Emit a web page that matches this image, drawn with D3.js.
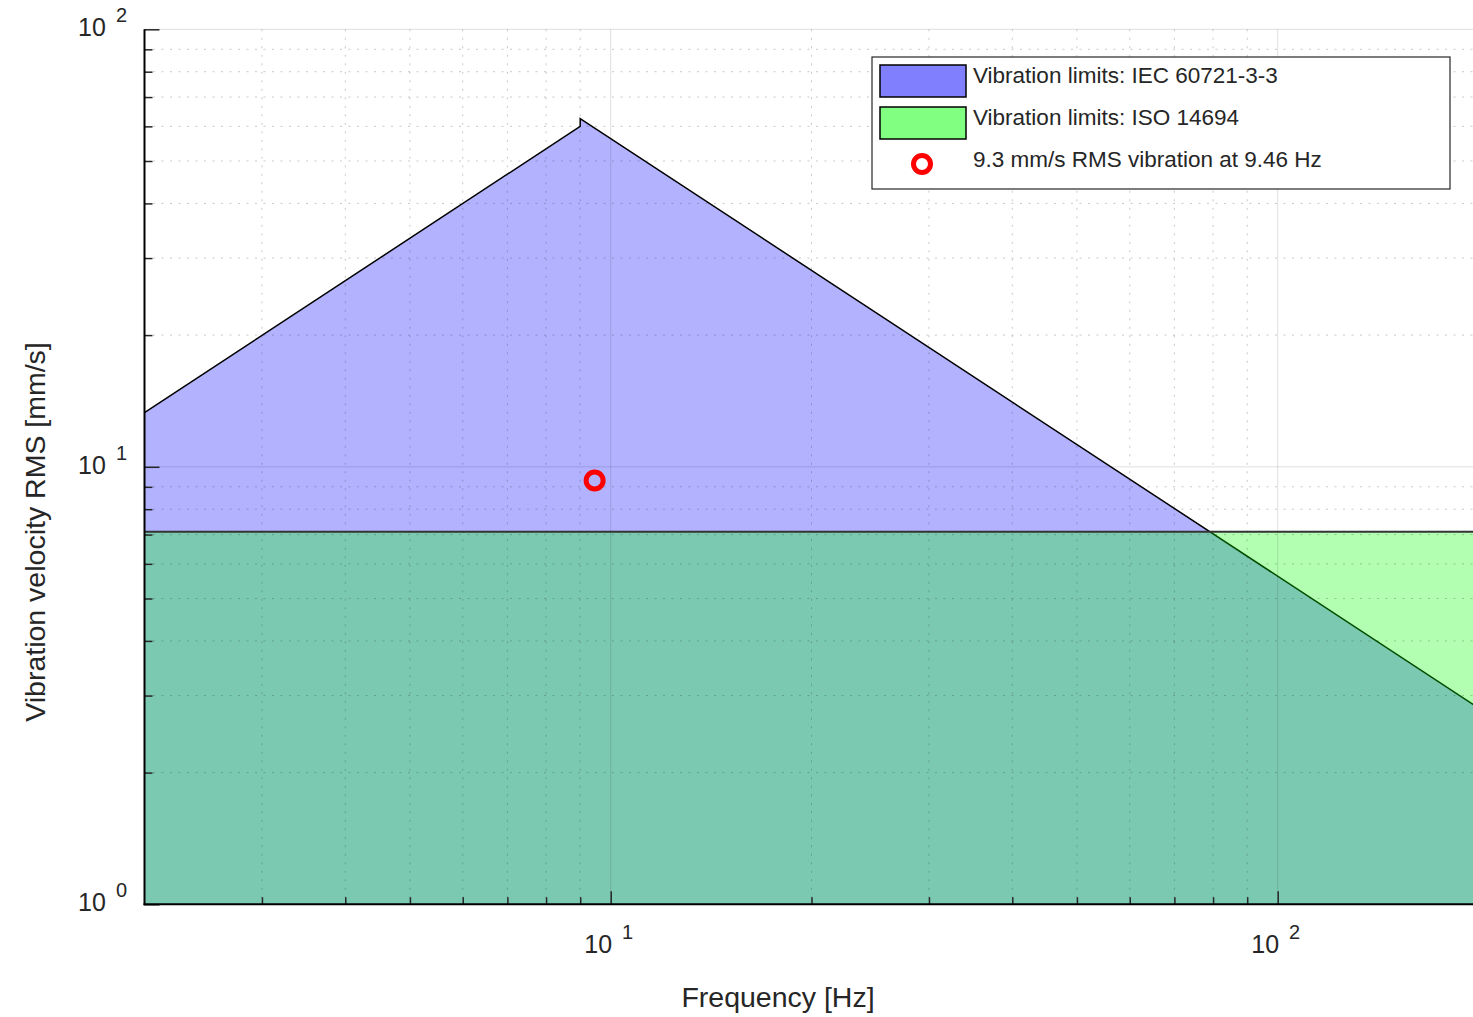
<!DOCTYPE html>
<html>
<head>
<meta charset="utf-8">
<script src="https://cdn.jsdelivr.net/npm/d3@7/dist/d3.min.js"></script>
<style>
	body { margin: 0; background: #fff; }
	text { font-family: "Liberation Sans", Arial, Helvetica, sans-serif; fill: #262626; }
</style>
</head>
<body>
<div id="chart"></div>
<script>
// limit curves (frequency in Hz, velocity in mm/s RMS)
var iecFreq  = [2, 9, 9, 200];
var iecVel   = [13.3, 60.0, 62.5, 2.81];
var isoFreq  = [2, 200];
var isoVel   = [7.1, 7.1];
var measFreq = [9.46];
var measVel  = [9.3];

var xMajorTicks = [10, 100];
var xMinorTicks = [3, 4, 5, 6, 7, 8, 9, 20, 30, 40, 50, 60, 70, 80, 90, 200];
var yMajorTicks = [1, 10, 100];
var yMinorTicks = [2, 3, 4, 5, 6, 7, 8, 9, 20, 30, 40, 50, 60, 70, 80, 90];

var legendLabels = [
	"Vibration limits: IEC 60721-3-3",
	"Vibration limits: ISO 14694",
	"9.3 mm/s RMS vibration at 9.46 Hz"
];

var W = 1473, H = 1017;
var plot = { left: 144.5, right: 1478.5, top: 29.3, bottom: 904.3 };

var svg = d3.select("#chart").append("svg")
	.attr("width", W)
	.attr("height", H);

var x = d3.scaleLog().domain([2, 200]).range([plot.left, plot.right]);
var y = d3.scaleLog().domain([1, 100]).range([plot.bottom, plot.top]);

svg.append("clipPath").attr("id", "clip")
	.append("rect")
	.attr("x", plot.left).attr("y", plot.top)
	.attr("width", plot.right - plot.left).attr("height", plot.bottom - plot.top);

var layer = svg.append("g").attr("clip-path", "url(#clip)");

var area = d3.area()
	.x(function(d){ return x(d[0]); })
	.y0(y(1))
	.y1(function(d){ return y(d[1]); });
var line = d3.line()
	.x(function(d){ return x(d[0]); })
	.y(function(d){ return y(d[1]); });

var iecPts = d3.zip(iecFreq, iecVel);
var isoPts = d3.zip(isoFreq, isoVel);

// IEC polygon
layer.append("path").attr("d", area(iecPts))
	.attr("fill", "#0000ff").attr("fill-opacity", 0.3);
layer.append("path").attr("d", line(iecPts))
	.attr("fill", "none").attr("stroke", "#000").attr("stroke-width", 1.5);

// ISO polygon on top
layer.append("path").attr("d", area(isoPts))
	.attr("fill", "#00ff00").attr("fill-opacity", 0.3);
layer.append("path").attr("d", line(isoPts))
	.attr("fill", "none").attr("stroke", "#333").attr("stroke-width", 2);

// grid (drawn over the fills)
var grid = svg.append("g");
grid.selectAll(".xminor").data(xMinorTicks).enter().append("line")
	.attr("x1", function(d){ return x(d); }).attr("x2", function(d){ return x(d); })
	.attr("y1", plot.top).attr("y2", plot.bottom)
	.attr("stroke", "#262626").attr("stroke-opacity", 0.25)
	.attr("stroke-dasharray", "2,6.5");
grid.selectAll(".yminor").data(yMinorTicks).enter().append("line")
	.attr("y1", function(d){ return y(d); }).attr("y2", function(d){ return y(d); })
	.attr("x1", plot.left).attr("x2", plot.right)
	.attr("stroke", "#262626").attr("stroke-opacity", 0.25)
	.attr("stroke-dasharray", "2,6.5");
grid.selectAll(".xmajor").data(xMajorTicks).enter().append("line")
	.attr("x1", function(d){ return x(d); }).attr("x2", function(d){ return x(d); })
	.attr("y1", plot.top).attr("y2", plot.bottom)
	.attr("stroke", "#262626").attr("stroke-opacity", 0.15);
grid.selectAll(".ymajor").data(yMajorTicks.slice(1)).enter().append("line")
	.attr("y1", function(d){ return y(d); }).attr("y2", function(d){ return y(d); })
	.attr("x1", plot.left).attr("x2", plot.right)
	.attr("stroke", "#262626").attr("stroke-opacity", 0.15);

// axes: inward ticks, major and minor
var xAxisMinor = d3.axisBottom(x).tickValues(xMinorTicks).tickSize(-7).tickSizeOuter(0).tickFormat("");
var xAxisMajor = d3.axisBottom(x).tickValues(xMajorTicks).tickSize(-13).tickSizeOuter(0).tickFormat("");
var yAxisMinor = d3.axisLeft(y).tickValues(yMinorTicks).tickSize(-8).tickSizeOuter(0).tickFormat("");
var yAxisMajor = d3.axisLeft(y).tickValues(yMajorTicks).tickSize(-15).tickSizeOuter(0).tickFormat("");

function styleAxis(g){
	g.selectAll(".domain").remove();
	g.selectAll(".tick line").attr("stroke", "#262626").attr("stroke-width", 1.5);
	g.selectAll(".tick text").remove();
}
svg.append("g").attr("transform", "translate(0," + plot.bottom + ")").call(xAxisMinor).call(styleAxis);
svg.append("g").attr("transform", "translate(0," + plot.bottom + ")").call(xAxisMajor).call(styleAxis);
svg.append("g").attr("transform", "translate(" + plot.left + ",0)").call(yAxisMinor).call(styleAxis);
svg.append("g").attr("transform", "translate(" + plot.left + ",0)").call(yAxisMajor).call(styleAxis);

svg.append("line").attr("x1", plot.left).attr("x2", plot.left)
	.attr("y1", plot.top).attr("y2", plot.bottom + 1)
	.attr("stroke", "#000").attr("stroke-width", 2);
svg.append("line").attr("x1", plot.left - 1).attr("x2", plot.right)
	.attr("y1", plot.bottom).attr("y2", plot.bottom)
	.attr("stroke", "#000").attr("stroke-width", 2);

// tick labels as 10 with a raised exponent
function powLabel(sel){
	sel.append("tspan").text("10");
	sel.append("tspan")
		.attr("dx", 10).attr("dy", -14)
		.style("font-size", "20px")
		.text(function(d){ return Math.round(Math.log10(d)); });
}
svg.selectAll(".xlab").data(xMajorTicks).enter().append("text")
	.attr("x", function(d){ return x(d) - 2; })
	.attr("y", 953)
	.attr("text-anchor", "middle")
	.style("font-size", "25px")
	.call(powLabel);
svg.selectAll(".ylab").data(yMajorTicks).enter().append("text")
	.attr("x", plot.left - 17.5)
	.attr("y", function(d){ return y(d) + 7; })
	.attr("text-anchor", "end")
	.style("font-size", "25px")
	.call(powLabel);

// axis titles
svg.append("text")
	.attr("x", 778).attr("y", 1007)
	.attr("text-anchor", "middle")
	.style("font-size", "28.5px")
	.text("Frequency [Hz]");
svg.append("text")
	.attr("transform", "translate(45,532) rotate(-90)")
	.attr("text-anchor", "middle")
	.style("font-size", "28.5px")
	.text("Vibration velocity RMS [mm/s]");

// measured point
svg.selectAll(".meas").data(d3.zip(measFreq, measVel)).enter().append("circle")
	.attr("cx", function(d){ return x(d[0]); })
	.attr("cy", function(d){ return y(d[1]); })
	.attr("r", 8.5)
	.attr("fill", "none").attr("stroke", "#ff0000").attr("stroke-width", 5);

// legend
var legend = svg.append("g").attr("transform", "translate(872,57)");
legend.append("rect")
	.attr("x", 0).attr("y", 0).attr("width", 578).attr("height", 132)
	.attr("fill", "#fff").attr("stroke", "#262626").attr("stroke-width", 1.2);
var patchColors = ["#8080ff", "#80ff80"];
legend.selectAll(".patch").data(patchColors).enter().append("rect")
	.attr("x", 8).attr("y", function(d, i){ return 8 + i * 42; })
	.attr("width", 86).attr("height", 32)
	.attr("fill", function(d){ return d; })
	.attr("stroke", "#000").attr("stroke-width", 1.5);
legend.append("circle")
	.attr("cx", 50).attr("cy", 107).attr("r", 8.5)
	.attr("fill", "none").attr("stroke", "#ff0000").attr("stroke-width", 5);
legend.selectAll(".ltext").data(legendLabels).enter().append("text")
	.attr("x", 101)
	.attr("y", function(d, i){ return 26 + i * 42; })
	.style("font-size", "22.5px")
	.text(function(d){ return d; });
</script>
</body>
</html>
